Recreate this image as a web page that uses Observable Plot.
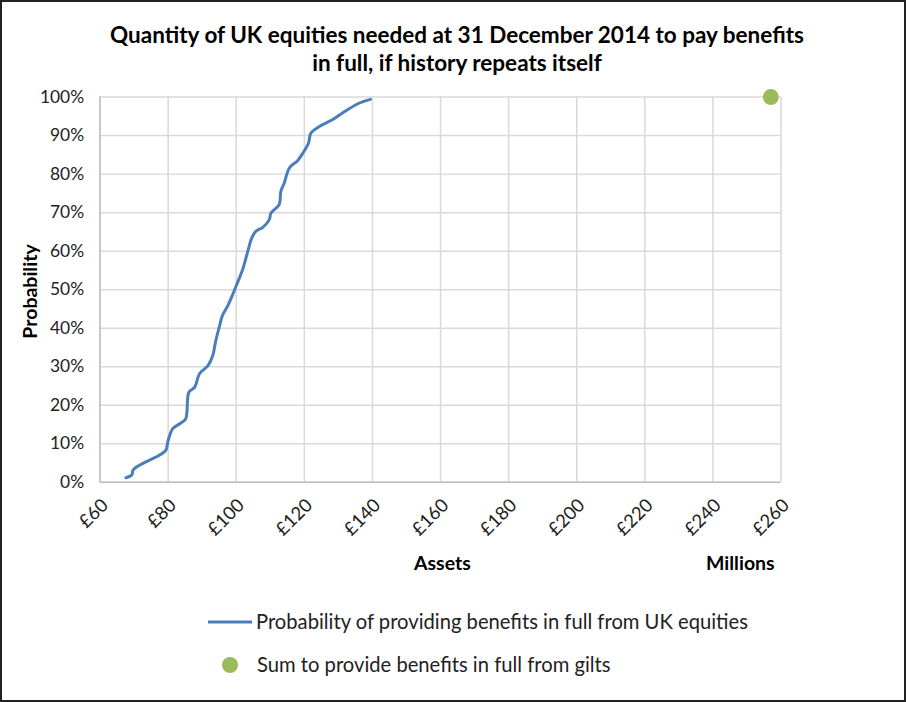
<!DOCTYPE html>
<html><head><meta charset="utf-8">
<script src="https://cdn.jsdelivr.net/npm/d3@7"></script>
<script src="https://cdn.jsdelivr.net/npm/@observablehq/plot@0.6"></script>
<style>
body{margin:0;background:#fff;font-family:Lato,"Open Sans",sans-serif;}
#wrap{position:relative;width:906px;height:702px;box-sizing:border-box;border:2px solid #222;overflow:hidden;}
#wrap svg{position:absolute;left:-2px;top:-2px;}
.t{position:absolute;color:#000;white-space:nowrap;}
</style></head>
<body><div id="wrap"></div>
<script>
// Equity curve: assets (£m) vs probability (%)
const assets = [67.6,69.3,69.7,71.7,74.6,77.5,79.3,80.0,81.4,83.4,85.1,85.5,86.1,87.8,89.2,91.7,93.1,93.9,95.1,95.9,97.5,98.8,100.4,101.9,103.4,104.6,105.8,107.8,109.7,110.2,112.6,113.1,114.1,115.6,118.0,119.6,121.2,121.9,124.3,128.2,131.1,136.0,139.4];
const probability = [1.2,1.9,3.2,4.5,5.8,7.1,8.3,10.9,14.0,15.2,16.4,18.1,23.4,24.7,28.2,30.3,32.9,36.4,40.6,43.2,45.8,48.4,51.9,55.3,60.0,63.5,65.2,66.2,68.2,69.9,72.1,75.5,77.7,81.6,83.5,85.5,88.0,90.6,92.3,94.1,95.8,98.4,99.4];
// Gilts point
const giltsAssets = [257];
const giltsProbability = [100];
const xTicks = [60,80,100,120,140,160,180,200,220,240,260];
const yTicks = [0,10,20,30,40,50,60,70,80,90,100];
const titleLines = ["Quantity of UK equities needed at 31 December 2014 to pay benefits","in full, if history repeats itself"];
const seriesNames = ["Probability of providing benefits in full from UK equities","Sum to provide benefits in full from gilts"];

const eq = assets.map((a,i)=>({x:a,y:probability[i]}));
const gilts = giltsAssets.map((a,i)=>({x:a,y:giltsProbability[i]}));
const blue = "#4a7ebb", green = "#9bbb59";

const chart = Plot.plot({
  width:906, height:702,
  marginLeft:100, marginRight:122, marginTop:97, marginBottom:218,
  style:{fontFamily:"Lato, sans-serif", fontSize:"17.5px", color:"#000", background:"transparent"},
  x:{domain:[60,260]},
  y:{domain:[0,100]},
  marks:[
    Plot.gridX(xTicks,{stroke:"#d9d9d9", strokeOpacity:1, strokeWidth:1.5}),
    Plot.gridY(yTicks,{stroke:"#d9d9d9", strokeOpacity:1, strokeWidth:1.5}),
    Plot.ruleX([60],{stroke:"#bfbfbf", strokeWidth:1.5}),
    Plot.ruleY([0],{stroke:"#bfbfbf", strokeWidth:1.5}),
    Plot.axisY(yTicks,{tickFormat:d=>d+"%", label:null, tickSize:0, tickPadding:16, fontSize:17.5, fill:"#222"}),
    Plot.axisX(xTicks,{tickFormat:d=>"£"+d, label:null, tickRotate:-45, tickSize:0, tickPadding:0, dx:5, dy:20, fontSize:18.5, fill:"#222"}),
    Plot.line(eq,{x:"x",y:"y",stroke:blue,strokeWidth:3,curve:"catmull-rom"}),
    Plot.dot(gilts,{x:"x",y:"y",r:8,fill:green,stroke:"none"})
  ]
});
const wrap = document.getElementById("wrap");
wrap.appendChild(chart);

function addText(txt, css){const d=document.createElement("div");d.className="t";d.textContent=txt;Object.assign(d.style,css);wrap.appendChild(d);return d;}
addText(titleLines[0],{left:"2px",width:"906px",textAlign:"center",top:"19px",fontSize:"22.5px",fontWeight:"bold"});
addText(titleLines[1],{left:"2px",width:"906px",textAlign:"center",top:"47px",fontSize:"22.5px",fontWeight:"bold"});
addText("Probability",{left:"-28px",top:"278px",width:"110px",textAlign:"center",fontSize:"19.5px",fontWeight:"bold",transform:"rotate(-90deg)"});
addText("Assets",{left:"412px",top:"549px",fontSize:"19.5px",fontWeight:"bold"});
addText("Millions",{left:"704px",top:"549px",fontSize:"19.5px",fontWeight:"bold"});

// legend
const leg = d3.select(wrap).append("svg").attr("width",906).attr("height",120)
  .style("position","absolute").style("left","-2px").style("top","580px");
leg.append("line").attr("x1",208).attr("x2",252).attr("y1",40).attr("y2",40).attr("stroke",blue).attr("stroke-width",3);
leg.append("circle").attr("cx",230).attr("cy",83).attr("r",8).attr("fill",green);
leg.append("text").attr("x",256).attr("y",47).text(seriesNames[0]).style("font","20.2px Lato, sans-serif").attr("fill","#222");
leg.append("text").attr("x",257).attr("y",90).text(seriesNames[1]).style("font","20.2px Lato, sans-serif").attr("fill","#222");
</script></body></html>
